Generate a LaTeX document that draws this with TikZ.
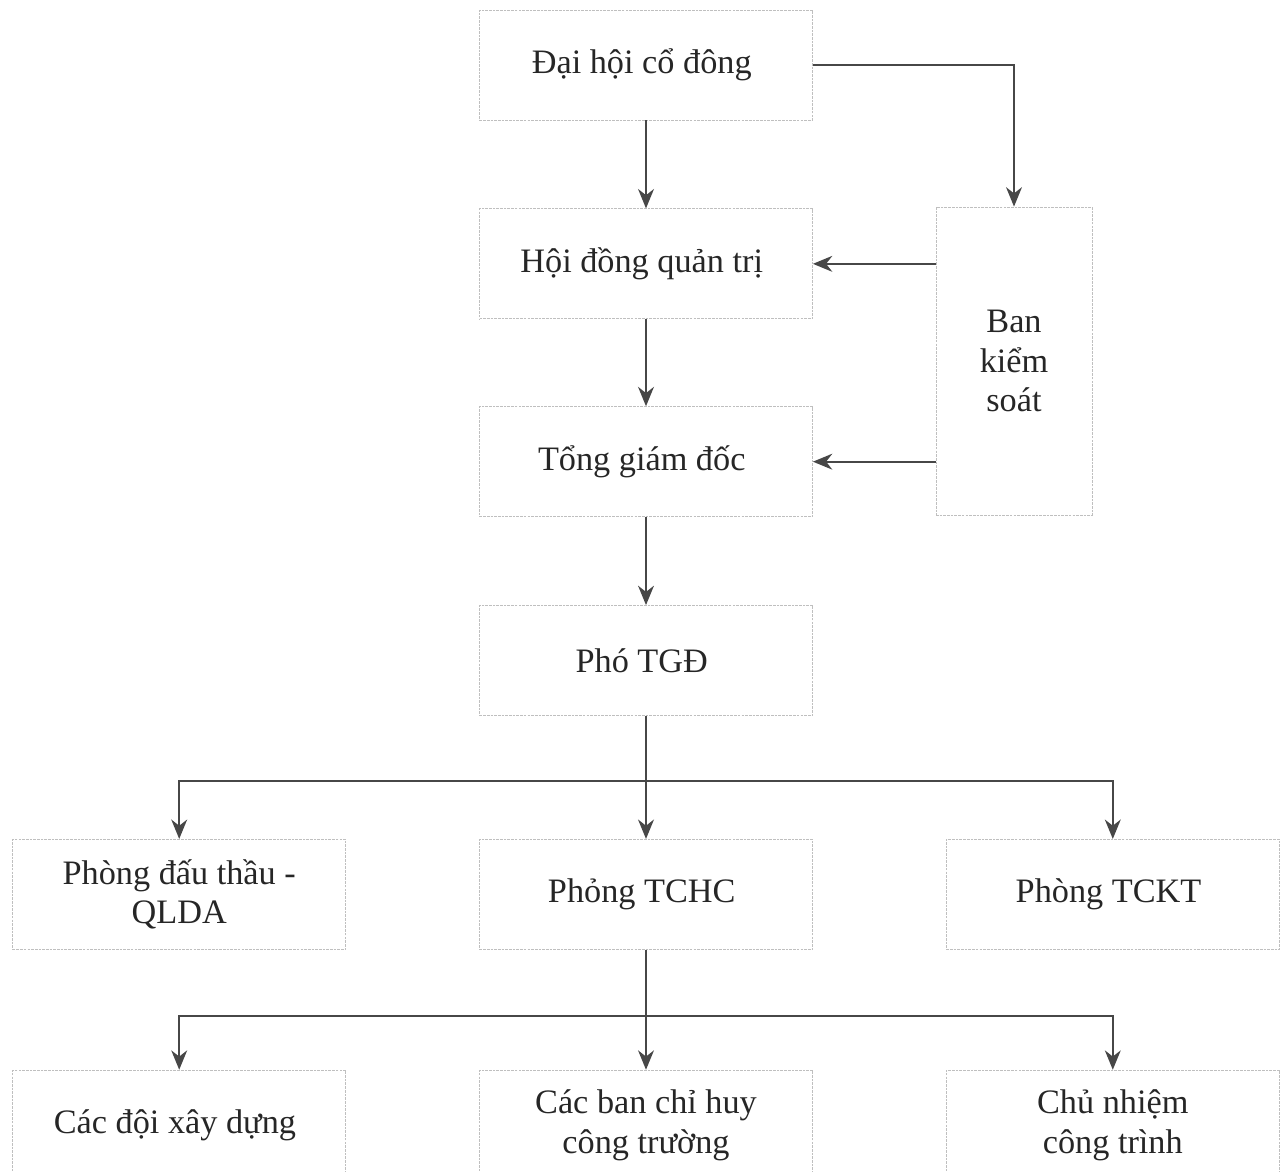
\documentclass[tikz,border=0pt]{standalone}
\usepackage{fontspec}
\setmainfont{Liberation Serif}
\usetikzlibrary{positioning, arrows.meta, calc}

\tikzset{
  unit/.style = { draw = gray!50, dash pattern = on 1.5pt off 0.6pt, line width = 0.5pt,
                  minimum width = 6.66cm, minimum height = 2.2cm, align = center,
                  font = \fontsize{19.5}{22.7}\selectfont, text = black!85 },
  link/.style = { draw = black!72, line width = 1.3pt,
                  -{Stealth[length = 11pt, width = 9pt, inset = 3.5pt]} }
}

\begin{document}
\begin{tikzpicture}[x = 0.02cm, y = -0.02cm]
  \clip (0,0) rectangle (1284,1172);

  \node [unit] (dhcd) at (646,65) { Đại hội cổ đông };
  \node [unit, below = 1.76cm of dhcd] (hdqt) { Hội đồng quản trị };
  \node [unit, below = 1.74cm of hdqt] (tgd) { Tổng giám đốc };
  \node [unit, below = 1.76cm of tgd] (pho) { Phó TGĐ };
  \node [unit, minimum width = 3.12cm, minimum height = 6.16cm] (bks) at (1014,361) { Ban \\ kiểm \\ soát };

  \node [unit, below = 2.46cm of pho] (tchc) { Phỏng TCHC };
  \node [unit, left = 2.66cm of tchc] (pdt) { Phòng đấu thầu - \\ QLDA };
  \node [unit, right = 2.66cm of tchc] (tckt) { Phòng TCKT };

  \node [unit, below = 2.4cm of tchc] (bch) { Các ban chỉ huy \\ công trường };
  \node [unit, left = 2.66cm of bch] (doi) { Các đội xây dựng };
  \node [unit, right = 2.66cm of bch] (cnct) { Chủ nhiệm \\ công trình };

  % tren
  \draw [link] (dhcd) -- (hdqt);
  \draw [link] (hdqt) -- (tgd);
  \draw [link] (tgd) -- (pho);
  \draw [link] (dhcd.east) -| (bks.north);
  \draw [link] (bks.west |- hdqt) -- (hdqt.east);
  \draw [link] (bks.west |- tgd) -- (tgd.east);

  % cac phong
  \coordinate (bus1) at ($(pho.south)!0.53!(tchc.north)$);
  \draw [link] (pho) -- (tchc);
  \draw [link] (bus1) -| (pdt.north);
  \draw [link] (bus1) -| (tckt.north);

  % duoi
  \coordinate (bus2) at ($(tchc.south)!0.55!(bch.north)$);
  \draw [link] (tchc) -- (bch);
  \draw [link] (bus2) -| (doi.north);
  \draw [link] (bus2) -| (cnct.north);
\end{tikzpicture}
\end{document}
